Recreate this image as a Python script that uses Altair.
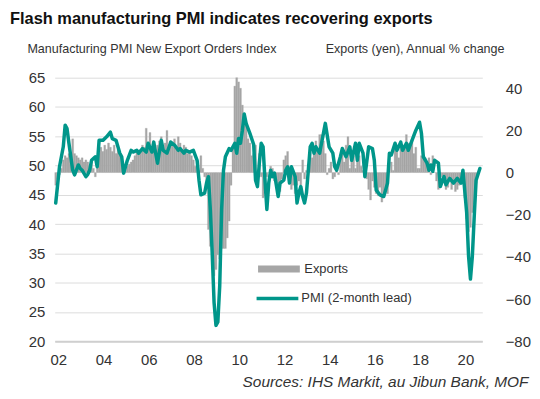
import altair as alt
import pandas as pd

# ---------------- data ----------------
# Exports (yen), annual % change, monthly from Jan 2002
export_values = [
    -6, -3, -1, 2, 6, 8, 7, 9, 7, 16, 9, 8,
    7, 6, 7, 5, 6, 5, 3, 6, 2, -2, 5, 9,
    12, 10, 13, 11, 14, 12, 10, 13, 9, 11, 8, 6,
    2, 1, 3, 4, 5, 6, 8, 10, 9, 11, 13, 12,
    21, 14, 19, 12, 15, 11, 13, 15, 17, 10, 14, 20,
    12, 15, 13, 16, 12, 17, 14, 11, 13, 12, 9, 10,
    8, 6, 3, 2, 1, 8, 2, -2, -8, -27, -35, -46,
    -49, -46, -39, -41, -36, -36, -36, -31, -23, -6, 12, 41,
    45, 43, 40, 32, 28, 24, 16, 14, 8, 9, 13, 1,
    9, -2, -12, -10, -2, 0, 3, 2, -4, -5, -8, -9,
    -3, 6, 8, 10, -2, -8, -6, -10, -6, -4, -6, 6,
    -3, 1, 4, 10, 7, 12, 15, 11, 18, 18, 15, 9,
    -1, 2, 5, -3, -2, 4, -1, 7, 10, 5, 13, 17,
    2, 8, 8, 2, 9, 8, 3, 1, -2, -3, -8, -13,
    -4, -7, -10, -11, -7, -14, -10, -7, -10, 0, 5, 1,
    11, 12, 7, 15, 10, 13, 18, 14, 14, 16, 9, 12,
    2, 2, 8, 8, 7, 4, 7, -1, 8, 0, -4, -8,
    -1, -2, -2, -8, -7, -2, -8, -5, -9, -8, -6, -3,
    -1, -12, -22, -28, -26, -19, -15, -5,
]

# PMI new export orders (2-month lead): month index from Jan 2002, value
pmi_months = [
    0, 2, 4, 5, 6, 7, 9, 10, 12, 13, 14, 16, 17, 18, 19, 21, 22, 23, 25, 27,
    29, 30, 32, 34, 35, 36, 38, 40, 41, 43, 44, 46, 48, 49, 51, 52, 53, 54, 56, 57,
    59, 61, 63, 65, 66, 68, 69, 71, 73, 75, 76, 77, 79, 80, 81, 82, 83, 84, 85, 86,
    87, 88, 89, 90, 92, 93, 95, 96, 97, 98, 99, 100, 101, 103, 105, 106, 107, 108, 109, 110,
    111, 112, 113, 114, 115, 116, 118, 119, 121, 122, 123, 124, 125, 127, 128, 129, 130, 131, 132, 133,
    134, 135, 136, 137, 138, 140, 141, 142, 143, 145, 147, 148, 149, 151, 152, 154, 156, 157, 159, 160,
    161, 163, 164, 166, 168, 169, 170, 172, 174, 176, 177, 178, 180, 181, 183, 184, 186, 187, 189, 191,
    193, 194, 195, 197, 198, 199, 200, 201, 203, 204, 206, 207, 209, 211, 213, 215, 216, 218, 219, 220,
    221, 222, 223, 225,
]
pmi_values = [
    43.6, 49.8, 53.2, 56.9, 56.3, 53.8, 49.2, 48.4, 50.1, 49.5, 49.2, 48.1, 48.5, 49.2, 50.9, 51.5, 49.8, 54.3, 54.3, 54.9,
    55.7, 54.6, 54.3, 52.1, 51.5, 48.7, 50.9, 52.6, 52.3, 52.6, 52.1, 52.9, 52.3, 53.8, 52.3, 54.0, 52.1, 50.4, 54.3, 52.6,
    52.1, 54.0, 53.5, 52.6, 52.9, 52.1, 52.6, 52.3, 52.6, 50.9, 47.5, 45.0, 45.3, 47.0, 48.1, 42.5, 35.1, 26.6, 22.7, 23.3,
    29.5, 42.5, 49.2, 51.5, 52.9, 52.6, 53.8, 52.1, 54.6, 53.8, 56.0, 58.8, 57.2, 55.5, 53.6, 47.5, 46.4, 50.4, 53.8, 53.2,
    47.5, 42.5, 47.0, 49.2, 48.1, 48.7, 44.7, 47.0, 47.5, 49.2, 49.8, 47.0, 49.8, 48.1, 43.6, 45.3, 46.4, 44.7, 43.6, 45.3,
    49.2, 53.2, 53.8, 52.1, 53.2, 52.1, 53.8, 55.5, 57.2, 53.2, 52.1, 49.8, 49.2, 51.5, 52.9, 51.5, 53.2, 50.9, 53.8, 50.9,
    53.8, 52.1, 48.1, 53.2, 52.9, 50.9, 45.8, 45.0, 44.7, 47.0, 52.1, 51.8, 53.8, 52.6, 54.0, 52.6, 53.8, 52.6, 54.3, 56.0,
    57.4, 55.5, 51.5, 50.4, 49.2, 50.1, 49.0, 50.9, 50.4, 46.4, 48.1, 46.7, 47.8, 47.0, 47.8, 47.0, 49.2, 41.9, 34.5, 30.6,
    34.5, 41.3, 47.5, 49.5,
]

tick_years = [2002, 2004, 2006, 2008, 2010, 2012, 2014, 2016, 2018, 2020]
left_ticks = [20, 25, 30, 35, 40, 45, 50, 55, 60, 65]
right_ticks = [-80, -60, -40, -20, 0, 20, 40]

# ---------------- tables ----------------
exports_df = pd.DataFrame({"m": list(range(len(export_values))), "exports": export_values})
exports_df["t"] = 2002 + exports_df["m"] / 12 - 1 / 24
exports_df["t2"] = exports_df["t"] + 1 / 12
exports_df["s1"] = "Exports"

pmi_df = pd.DataFrame({"m": pmi_months, "pmi": pmi_values})
pmi_df["t"] = 2002 + pmi_df["m"] / 12
pmi_df["s2"] = "PMI (2-month lead)"

FONT = "Liberation Sans"
TXT = "#333333"
GRAY = "#a6a6a6"
TEAL = "#00968a"
X_DOMAIN = [2001.956, 2020.856]

x_axis = alt.Axis(
    values=[y + 0.11 for y in tick_years],
    labelExpr="substring(toString(floor(datum.value)), 2, 4)",
    grid=False, ticks=False, domain=True, domainColor="#cfcfcf", domainWidth=2,
    labelFontSize=15, labelColor=TXT, labelPadding=11, labelFont=FONT,
    title="Sources: IHS Markit, au Jibun Bank, MOF",
    titleFontStyle="italic", titleFontWeight="normal", titleFontSize=15.5,
    titleColor=TXT, titleFont=FONT, titleAlign="right", titleBaseline="alphabetic",
    titleX=476, titleY=46,
)
x_scale = alt.Scale(domain=X_DOMAIN, nice=False, zero=False)

bars = alt.Chart(exports_df).mark_bar(stroke=GRAY, strokeWidth=0.3).encode(
    x=alt.X("t:Q", scale=x_scale, axis=x_axis),
    x2="t2:Q",
    y=alt.Y(
        "exports:Q",
        scale=alt.Scale(domain=[-80, 45], nice=False, zero=False),
        axis=alt.Axis(
            orient="right", values=right_ticks, grid=False, ticks=False, domain=False,
            labelFontSize=15, labelColor=TXT, labelPadding=23, labelFont=FONT,
            title="Exports (yen), Annual % change", titleAngle=0, titleAlign="left",
            titleBaseline="alphabetic", titleX=-158, titleY=-25, titleFontSize=12.6,
            titleFontWeight="normal", titleColor=TXT, titleFont=FONT,
        ),
    ),
    y2=alt.datum(0),
    color=alt.Color(
        "s1:N",
        scale=alt.Scale(domain=["Exports"], range=[GRAY]),
        legend=alt.Legend(
            orient="none", legendX=201, legendY=168, title=None, symbolType="stroke",
            symbolSize=1764, symbolStrokeWidth=7, symbolStrokeColor=GRAY,
            labelFontSize=13, labelColor=TXT, labelFont=FONT, labelOffset=1, padding=0,
        ),
    ),
)

line = alt.Chart(pmi_df).mark_line(strokeWidth=3.5, strokeJoin="round", strokeCap="round").encode(
    x=alt.X("t:Q", scale=x_scale, axis=x_axis),
    y=alt.Y(
        "pmi:Q",
        scale=alt.Scale(domain=[20, 65], nice=False, zero=False),
        axis=alt.Axis(
            orient="left", values=left_ticks, grid=True, gridColor="#dcdcdc", gridWidth=1,
            ticks=False, domain=False, labelFontSize=15, labelColor=TXT, labelPadding=10,
            labelFont=FONT,
            title="Manufacturing PMI New Export Orders Index", titleAngle=0, titleAlign="left",
            titleBaseline="alphabetic", titleX=-28, titleY=-25, titleFontSize=12.6,
            titleFontWeight="normal", titleColor=TXT, titleFont=FONT,
        ),
    ),
    stroke=alt.Stroke(
        "s2:N",
        scale=alt.Scale(domain=["PMI (2-month lead)"], range=[TEAL]),
        legend=alt.Legend(
            orient="none", legendX=201, legendY=199, title=None, symbolType="stroke",
            symbolSize=1764, symbolStrokeWidth=3.5,
            labelFontSize=13, labelColor=TXT, labelFont=FONT, labelOffset=1, padding=0,
        ),
    ),
)

chart = (
    alt.layer(bars, line)
    .resolve_scale(y="independent")
    .properties(
        width=430,
        height=265,
        padding={"left": 47, "top": 69, "right": 50, "bottom": 50},
        autosize=alt.AutoSizeParams(type="none"),
        title=alt.TitleParams(
            "Flash manufacturing PMI indicates recovering exports",
            anchor="start", frame="group", dx=-45, offset=16,
            fontSize=16.5, fontWeight="bold", font=FONT, color="#111111",
        ),
    )
    .configure(font=FONT)
    .configure_view(stroke=None)
)

chart.save("out.html", embed_options={"renderer": "svg", "actions": False})
